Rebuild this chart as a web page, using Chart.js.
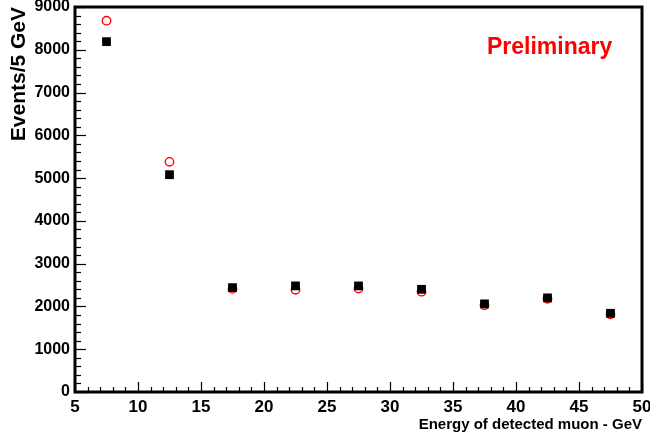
<!DOCTYPE html>
<html>
<head>
<meta charset="utf-8">
<script src="https://cdn.jsdelivr.net/npm/chart.js@4/dist/chart.umd.min.js"></script>
<style>
html,body{margin:0;padding:0;background:#fff;}
#wrap{width:650px;height:436px;}
</style>
</head>
<body>
<div id="wrap"><canvas id="c" width="650" height="436"></canvas></div>
<script>
// Data
const binCenters = [7.5, 12.5, 17.5, 22.5, 27.5, 32.5, 37.5, 42.5, 47.5];
const blackSquares = [8190, 5080, 2440, 2480, 2480, 2400, 2060, 2200, 1840];
const redCircles   = [8680, 5380, 2410, 2390, 2420, 2345, 2030, 2180, 1815];
const xTickStep = 5, xMinorStep = 1;
const yTickStep = 1000, yMinorStep = 200;

const FONT = "'Liberation Sans', Arial, Helvetica, sans-serif";

const tickPlugin = {
  id: 'rootTicks',
  afterDraw(chart) {
    const ctx = chart.ctx;
    const a = chart.chartArea;
    const xs = chart.scales.x, ys = chart.scales.y;
    ctx.save();
    ctx.strokeStyle = '#000';
    ctx.lineWidth = 1.2;
    for (let v = xs.min; v <= xs.max + 1e-9; v += xMinorStep) {
      const px = Math.round(xs.getPixelForValue(v)) + 0.5;
      const major = Math.abs(v / xTickStep - Math.round(v / xTickStep)) < 1e-6;
      const len = major ? 10 : 5;
      ctx.beginPath();
      ctx.moveTo(px, a.bottom);
      ctx.lineTo(px, a.bottom - len);
      ctx.stroke();
    }
    for (let v = ys.min; v <= ys.max + 1e-9; v += yMinorStep) {
      const py = Math.round(ys.getPixelForValue(v)) + 0.5;
      const major = Math.abs(v / yTickStep - Math.round(v / yTickStep)) < 1e-6;
      const len = major ? 11 : 6;
      ctx.beginPath();
      ctx.moveTo(a.left, py);
      ctx.lineTo(a.left + len, py);
      ctx.stroke();
    }
    ctx.lineWidth = 3;
    ctx.beginPath();
    ctx.moveTo(a.left, a.bottom);
    ctx.lineTo(a.left, a.top);
    ctx.lineTo(a.right, a.top);
    ctx.lineTo(a.right, a.bottom);
    ctx.closePath();
    ctx.stroke();
    ctx.fillStyle = '#ff0000';
    ctx.font = "bold 23px " + FONT;
    ctx.textAlign = 'left';
    ctx.textBaseline = 'alphabetic';
    ctx.fillText('Preliminary', 487, 54);
    ctx.restore();
  }
};

new Chart(document.getElementById('c'), {
  type: 'scatter',
  data: {
    datasets: [
      {
        label: 'black',
        data: binCenters.map((x, i) => ({x: x, y: blackSquares[i]})),
        pointStyle: 'rect',
        pointRadius: 6.2,
        pointHoverRadius: 6.2,
        backgroundColor: '#000',
        borderColor: '#000',
        borderWidth: 0,
        order: 0
      },
      {
        label: 'red',
        data: binCenters.map((x, i) => ({x: x, y: redCircles[i]})),
        pointStyle: 'circle',
        pointRadius: 4.2,
        pointHoverRadius: 4.2,
        backgroundColor: 'rgba(0,0,0,0)',
        borderColor: '#ff0000',
        borderWidth: 1.4,
        order: 1
      }
    ]
  },
  options: {
    responsive: false,
    animation: false,
    events: [],
    layout: {padding: {top: 7, right: 8, left: 0, bottom: 0}},
    plugins: {legend: {display: false}, tooltip: {enabled: false}},
    scales: {
      x: {
        type: 'linear',
        min: 5, max: 50,
        grid: {display: false, drawTicks: false},
        border: {display: false},
        ticks: {
          stepSize: xTickStep,
          padding: 5,
          color: '#000',
          font: {family: FONT, size: 17, weight: 'bold'},
          maxRotation: 0,
          autoSkip: false,
          callback: v => String(v)
        },
        title: {
          display: true,
          text: 'Energy of detected muon - GeV',
          align: 'end',
          color: '#000',
          font: {family: FONT, size: 15, weight: 'bold'},
          padding: {top: 0, bottom: 2}
        },
        afterFit(s) { s.height = 44; s.paddingLeft = 0; s.paddingRight = 0; }
      },
      y: {
        type: 'linear',
        min: 0, max: 9000,
        grid: {display: false, drawTicks: false},
        border: {display: false},
        ticks: {
          stepSize: yTickStep,
          padding: 5,
          color: '#000',
          font: {family: FONT, size: 16, weight: 'bold'},
          autoSkip: false,
          callback: v => String(v)
        },
        title: {
          display: true,
          text: 'Events/5 GeV',
          align: 'end',
          color: '#000',
          font: {family: FONT, size: 21, weight: 'bold'},
          padding: {top: 7, bottom: 0}
        },
        afterFit(s) { s.width = 75; s.paddingTop = 0; s.paddingBottom = 0; }
      }
    }
  },
  plugins: [tickPlugin]
});
</script>
</body>
</html>
